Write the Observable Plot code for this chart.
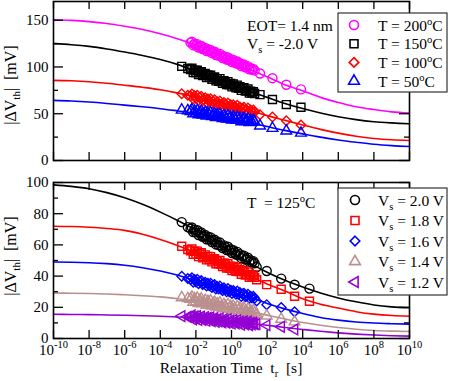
<!DOCTYPE html>
<html><head><meta charset="utf-8">
<script src="https://cdn.jsdelivr.net/npm/d3@7"></script>
<script src="https://cdn.jsdelivr.net/npm/@observablehq/plot@0.6"></script>
<style>
body{margin:0;background:#fff}
#wrap{position:relative;width:450px;height:381px;overflow:hidden;background:#fff}
#wrap svg{position:absolute;left:0;display:block;overflow:visible}
</style></head><body><div id="wrap"></div>
<script>
// ---------- data ----------
const bandTimes = [1.6e-3, 3.5e-3, 5.0e-3, 5.96e-3, 7.08e-3, 8.41e-3, 0.01, 0.0119, 0.0141, 0.0168, 0.02, 0.0237, 0.0282, 0.0335, 0.0398, 0.0473, 0.0562, 0.0668, 0.0794, 0.0944, 0.112, 0.133, 0.158, 0.188, 0.224, 0.266, 0.316, 0.376, 0.447, 0.531, 0.631, 0.75, 0.891, 1.06, 1.26, 1.5, 1.78, 2.11, 2.51, 2.99, 3.55, 4.22, 5.01, 5.96, 7.08, 8.41, 10, 11.9, 14.1, 16.8, 20];
const topPostTimes = [40, 200, 1200, 8000];
const botPostTimes = [26, 95, 620, 3500, 24000];
const curveTimes = [1e-10,1e-9,1e-8,1e-7,1e-6,1e-5,1e-4,1e-3,1e-2,1e-1,1,1e1,1e2,1e3,1e4,1e5,1e6,1e7,1e8,1e9,1e10];
const xTickValues = [1e-10,1e-8,1e-6,1e-4,1e-2,1,1e2,1e4,1e6,1e8,1e10];
const xTickExponents = ["-10","-8","-6","-4","-2","0","2","4","6","8","10"];
const topYTicks = [0, 50, 100, 150];
const topYMinor = [25, 75, 125];
const botYTicks = [0, 20, 40, 60, 80, 100];
const botYMinor = [10, 30, 50, 70, 90];

// top panel (Vs = -2.0 V, several temperatures)
const tempLabels = ["200", "150", "100", "50"];
const band200 = [null, null, 126.0, 126.9, 123.3, 124.9, 122.8, 124.4, 120.8, 122.2, 122.5, 119.2, 119.5, 120.4, 117.1, 118.9, 116.7, 118.2, 114.8, 115.8, 116.3, 112.7, 114.2, 112.1, 113.9, 111.4, 109.6, 111.6, 110.1, 108.0, 110.2, 107.3, 108.2, 105.3, 107.4, 105.6, 104.0, 105.8, 103.1, 104.0, 101.0, 102.4, 102.6, 99.7, 99.9, 100.9, 97.6, 98.7, 97.1, 98.0, 96.3];
const band150 = [100.7, 98.3, 97.2, 98.7, 94.1, 96.6, 94.1, 96.5, 92.0, 94.1, 94.9, 90.8, 91.5, 93.0, 88.8, 91.5, 89.0, 91.2, 86.9, 88.6, 89.4, 85.1, 87.4, 84.8, 87.5, 84.4, 82.5, 85.3, 83.6, 81.1, 84.3, 80.8, 82.3, 78.7, 81.8, 79.7, 77.7, 80.6, 77.3, 78.8, 75.0, 77.1, 77.8, 74.2, 74.7, 76.4, 72.2, 74.1, 72.2, 73.6, 71.7];
const band100 = [71.4, 69.8, 69.0, 71.1, 65.8, 69.2, 66.4, 69.7, 64.4, 67.3, 68.6, 63.8, 64.9, 67.1, 62.2, 65.8, 63.0, 66.1, 61.1, 63.4, 64.9, 59.7, 62.8, 60.0, 63.6, 60.1, 57.9, 61.9, 60.0, 57.1, 61.5, 57.4, 59.6, 55.4, 59.5, 57.2, 55.1, 59.0, 55.1, 57.3, 52.9, 55.8, 56.9, 52.8, 53.8, 56.1, 51.2, 53.9, 51.8, 53.9, 51.8];
const band50 = [54.0, 53.3, 52.5, 54.3, 50.0, 52.8, 50.6, 53.3, 49.1, 51.5, 52.6, 48.8, 49.8, 51.5, 47.7, 50.7, 48.4, 51.0, 47.0, 48.9, 50.1, 46.1, 48.6, 46.4, 49.4, 46.5, 44.9, 48.1, 46.6, 44.4, 48.0, 44.7, 46.5, 43.3, 46.6, 44.8, 43.2, 46.3, 43.3, 45.1, 41.6, 44.0, 45.0, 41.7, 42.5, 44.5, 40.6, 42.8, 41.2, 42.9, 41.3];
const post200 = [93, 88, 81, 76];
const post150 = [70.4, 65.2, 59.8, 57];
const post100 = [49, 46.5, 42.5, 38];
const post50 = [37, 34.5, 31.6, 29.4];
const curve200 = [150.5, 149.8, 148.5, 146.5, 143.5, 140, 135.5, 130, 123.5, 115, 106.5, 97.5, 89.5, 81, 74.5, 67.5, 62, 57.5, 54.5, 52, 50.7];
const curve150 = [125, 123.8, 122, 119.3, 116, 112.3, 108, 102.5, 95.5, 88, 81, 74, 67.5, 61, 55.5, 50.8, 46.8, 43.7, 41.5, 40.2, 39.3];
const curve100 = [85.7, 85.2, 84.2, 82.6, 80.5, 78.3, 75.7, 72, 68, 63.5, 58.5, 53.5, 48, 43, 38, 33.3, 29.3, 26, 23.6, 22.2, 21.4];
const curve50 = [64.3, 63.6, 62.5, 61, 59.2, 57.4, 55.4, 53, 50.5, 47.5, 44.5, 40.5, 36.3, 32.2, 28.5, 25, 22, 19.5, 17.3, 15.9, 15];

// bottom panel (T = 125 C, several stress voltages)
const voltLabels = ["2.0", "1.8", "1.6", "1.4", "1.2"];
const band20 = [74.6, 71.4, 70.4, 71.2, 68.2, 69.7, 68.0, 69.4, 66.3, 67.6, 68.0, 65.2, 65.5, 66.3, 63.6, 65.2, 63.4, 64.8, 61.8, 62.8, 63.3, 60.3, 61.7, 59.9, 61.5, 59.4, 58.0, 59.7, 58.5, 56.7, 58.8, 56.4, 57.2, 54.8, 56.6, 55.1, 53.8, 55.5, 53.3, 54.1, 51.5, 52.8, 53.1, 50.6, 50.9, 51.8, 49.1, 50.1, 48.7, 49.6, 48.2];
const band18 = [59.1, 57.0, 56.2, 57.4, 53.9, 55.9, 54.0, 56.0, 52.5, 54.2, 55.0, 51.7, 52.4, 53.6, 50.4, 52.6, 50.6, 52.5, 49.1, 50.5, 51.2, 47.9, 49.7, 47.8, 50.0, 47.6, 46.1, 48.5, 47.2, 45.2, 47.9, 45.1, 46.4, 43.6, 46.2, 44.5, 43.1, 45.4, 42.9, 44.1, 41.2, 42.9, 43.4, 40.7, 41.1, 42.6, 39.3, 40.9, 39.4, 40.7, 39.2];
const band16 = [39.9, 38.4, 37.9, 38.9, 36.1, 37.8, 36.3, 37.9, 35.1, 36.5, 37.2, 34.6, 35.1, 36.1, 33.6, 35.4, 33.9, 35.4, 32.7, 33.9, 34.6, 31.8, 33.4, 31.8, 33.7, 31.7, 30.6, 32.5, 31.4, 29.9, 32.1, 29.9, 31.0, 28.8, 30.8, 29.6, 28.4, 30.4, 28.3, 29.4, 27.0, 28.5, 29.0, 26.8, 27.2, 28.4, 25.8, 27.1, 25.9, 27.0, 25.8];
const band14 = [26.2, 25.6, 25.2, 26.6, 23.2, 25.5, 23.7, 25.9, 22.5, 24.4, 25.4, 22.3, 23.1, 24.5, 21.4, 23.8, 22.1, 24.1, 20.9, 22.4, 23.3, 20.2, 22.2, 20.4, 22.8, 20.5, 19.3, 21.8, 20.7, 18.9, 21.7, 19.1, 20.6, 18.0, 20.7, 19.2, 17.9, 20.5, 18.1, 19.5, 16.7, 18.6, 19.4, 16.8, 17.4, 19.0, 15.9, 17.7, 16.4, 17.8, 16.5];
const band12 = [14.3, 13.9, 13.7, 14.8, 12.3, 14.0, 12.7, 14.4, 11.9, 13.4, 14.1, 11.9, 12.6, 13.7, 11.4, 13.2, 11.9, 13.5, 11.1, 12.3, 13.1, 10.7, 12.3, 11.0, 12.8, 11.1, 10.3, 12.2, 11.4, 10.1, 12.3, 10.4, 11.5, 9.6, 11.7, 10.6, 9.7, 11.6, 9.8, 10.9, 8.9, 10.4, 11.0, 9.1, 9.6, 10.8, 8.6, 10.0, 9.0, 10.1, 9.2];
const post20 = [45.8, 43.3, 38.4, 34.5, 32];
const post18 = [37.7, 34.5, 31.6, 27.1, 23.9];
const post16 = [24.1, 21.7, 19.8, 17.1];
const post14 = [15.6, 14.5, 12.4, 10.7];
const post12 = [9.2, 8.5, 7.5, 5.8];
const curve20 = [98.5, 97.5, 96, 93.5, 90.2, 86, 81, 75.5, 69.5, 62.5, 55.5, 48.5, 42.5, 37.3, 33, 29.2, 26, 23.5, 21.5, 20.3, 19.7];
const curve18 = [72, 71.8, 71.3, 70.5, 69.3, 66.8, 63.5, 59.5, 55, 50, 45, 40, 35, 30.5, 25.5, 22, 19.5, 17.2, 15.6, 14.7, 14.3];
const curve16 = [49, 48.9, 48.6, 48, 47, 45.4, 43.3, 40.5, 37, 33.5, 30, 26.5, 22.5, 19, 16, 13.5, 11.8, 10.6, 9.9, 9.5, 9.2];
const curve14 = [29.2, 29, 28.8, 28.5, 28, 27.4, 26.7, 25.5, 24, 22, 20, 17.5, 15, 12.5, 10.3, 8.5, 7, 5.9, 5.1, 4.7, 4.5];
const curve12 = [15.5, 15.4, 15.3, 15.1, 14.9, 14.6, 14.3, 13.8, 13.1, 12.1, 11, 9.8, 8.5, 7.1, 5.8, 4.6, 3.6, 2.8, 2.2, 1.8, 1.5];

// ---------- symbols ----------
const leftTriangle = {
  draw(ctx, size) {
    const a = Math.sqrt(4 * size / Math.sqrt(3)), h = a * Math.sqrt(3) / 2;
    ctx.moveTo(-2 * h / 3, 0); ctx.lineTo(h / 3, -a / 2); ctx.lineTo(h / 3, a / 2); ctx.closePath();
  }
};
const symObj = {circle: d3.symbolCircle, square: d3.symbolSquare, diamond2: d3.symbolDiamond2, triangle: d3.symbolTriangle, left: leftTriangle};

const topSeries = [
  {color: "#ff00ff", symbol: "circle", r: 4.5, band: band200, post: post200, curve: curve200},
  {color: "#000000", symbol: "square", r: 4.5, band: band150, post: post150, curve: curve150},
  {color: "#ff0000", symbol: "diamond2", r: 4.3, band: band100, post: post100, curve: curve100},
  {color: "#0000ff", symbol: "triangle", r: 4, band: band50, post: post50, curve: curve50}
];
const botSeries = [
  {color: "#000000", symbol: "circle", r: 4.5, band: band20, post: post20, curve: curve20},
  {color: "#ff0000", symbol: "square", r: 4.5, band: band18, post: post18, curve: curve18},
  {color: "#0000ff", symbol: "diamond2", r: 4.3, band: band16, post: post16, curve: curve16},
  {color: "#bc8f8f", symbol: "triangle", r: 4, band: band14, post: post14, curve: curve14},
  {color: "#9400d3", symbol: "left", r: 4, band: band12, post: post12, curve: curve12}
];

const FONT = "'Liberation Serif', 'Times New Roman', serif";

function seriesMarks(series, postTimes) {
  const marks = [];
  for (const s of series) {
    const curve = curveTimes.map((t, i) => ({t, v: s.curve[i]}));
    marks.push(Plot.line(curve, {x: "t", y: "v", stroke: s.color, strokeWidth: 1.6, curve: "monotone-x"}));
  }
  for (const s of series) {
    const pts = bandTimes.map((t, i) => ({t, v: s.band[i]})).filter(d => d.v != null)
      .concat(s.post.map((v, i) => ({t: postTimes[i], v})));
    const sym = s.symbol === "left" ? leftTriangle : s.symbol;
    marks.push(Plot.dot(pts, {x: "t", y: "v", r: s.r, symbol: sym, stroke: s.color, fill: "none", strokeWidth: 1.4}));
  }
  return marks;
}

function frameTicks(yMajor, yMinor, innerW, innerH) {
  const st = {stroke: "black", strokeWidth: 1.3};
  return [
    Plot.tickX(xTickValues, {x: d => d, insetTop: innerH - 8, ...st}),
    Plot.tickX(xTickValues, {x: d => d, insetBottom: innerH - 8, ...st}),
    Plot.tickY(yMajor, {y: d => d, insetRight: innerW - 10, ...st}),
    Plot.tickY(yMajor, {y: d => d, insetLeft: innerW - 10, ...st}),
    Plot.tickY(yMinor, {y: d => d, insetRight: innerW - 5, ...st}),
    Plot.tickY(yMinor, {y: d => d, insetLeft: innerW - 5, ...st}),
    Plot.text(yMajor, {y: d => d, text: d => String(d), frameAnchor: "left", dx: -5, textAnchor: "end", fontSize: 15, fontFamily: FONT, fill: "black"})
  ];
}

const ML = 53, MR = 41, W = 450;
const innerW = W - ML - MR;

// top plot
const topH = 170, topMT = 1, topMB = 10;
const topPlot = Plot.plot({
  width: W, height: topH, marginTop: topMT, marginBottom: topMB, marginLeft: ML, marginRight: MR,
  style: {fontFamily: FONT, fontSize: "15px", background: "transparent", color: "black"},
  x: {type: "log", domain: [1e-10, 1e10], axis: null},
  y: {domain: [0, 170], axis: null},
  marks: [
    ...seriesMarks(topSeries, topPostTimes),
    ...frameTicks(topYTicks, topYMinor, innerW, topH - topMT - topMB),
    Plot.frame({stroke: "black", strokeWidth: 1.6})
  ]
});

// bottom plot
const botH = 211, botMT = 12, botMB = 43;
const botPlot = Plot.plot({
  width: W, height: botH, marginTop: botMT, marginBottom: botMB, marginLeft: ML, marginRight: MR,
  style: {fontFamily: FONT, fontSize: "15px", background: "transparent", color: "black"},
  x: {type: "log", domain: [1e-10, 1e10], axis: null},
  y: {domain: [0, 100], axis: null},
  marks: [
    ...seriesMarks(botSeries, botPostTimes),
    ...frameTicks(botYTicks, botYMinor, innerW, botH - botMT - botMB),
    Plot.text(xTickValues, {x: d => d, text: (d, i) => "10^" + xTickExponents[i], frameAnchor: "bottom", dy: 16.5, fontSize: 15, fontFamily: FONT, fill: "black"}),
    Plot.frame({stroke: "black", strokeWidth: 1.6})
  ]
});

const wrap = document.getElementById("wrap");
topPlot.style.top = "0px";
botPlot.style.top = "170px";
wrap.appendChild(topPlot);
wrap.appendChild(botPlot);

// superscript exponents on x tick labels
botPlot.querySelectorAll("text").forEach(el => {
  const m = el.textContent.match(/^10\^(.+)$/);
  if (!m) return;
  while (el.firstChild) el.removeChild(el.firstChild);
  const ns = "http://www.w3.org/2000/svg";
  const a = document.createElementNS(ns, "tspan"); a.textContent = "10"; el.appendChild(a);
  const b = document.createElementNS(ns, "tspan"); b.textContent = m[1];
  b.setAttribute("dy", "-7.5"); b.setAttribute("font-size", "10.5"); el.appendChild(b);
});

// ---------- rich text helpers ----------
function richText(g, x, y, parts, size, opts = {}) {
  const t = g.append("text").attr("x", x).attr("y", y).attr("font-size", size)
    .attr("font-family", FONT).attr("fill", "black")
    .attr("text-anchor", opts.anchor || "start").attr("xml:space", "preserve").style("white-space", "pre");
  if (opts.transform) t.attr("transform", opts.transform);
  let shift = 0;
  for (const [s, kind] of parts) {
    const target = kind === "sup" ? -6 : kind === "sub" ? 4 : 0;
    const sp = t.append("tspan").attr("dy", target - shift).text(s);
    if (kind) sp.attr("font-size", size * 0.68);
    shift = target;
  }
  return t;
}

function legend(svgNode, box, rows, series) {
  const g = d3.select(svgNode).append("g");
  g.append("rect").attr("x", box.x).attr("y", box.y).attr("width", box.w).attr("height", box.h)
    .attr("fill", "white").attr("stroke", "#333").attr("stroke-width", 1.2);
  rows.forEach((parts, i) => {
    const s = series[i];
    const cy = box.y0 + i * box.dy;
    g.append("path").attr("d", d3.symbol(symObj[s.symbol], Math.PI * s.r * s.r)())
      .attr("transform", `translate(${box.mx},${cy})`)
      .attr("fill", "none").attr("stroke", s.color).attr("stroke-width", 1.6);
    richText(g, box.tx, cy + 5.5, parts, 15.5);
  });
}

const topSvg = topPlot.tagName.toLowerCase() === "svg" ? topPlot : topPlot.querySelector("svg");
const botSvg = botPlot.tagName.toLowerCase() === "svg" ? botPlot : botPlot.querySelector("svg");

// top annotations & legend
{
  const g = d3.select(topSvg).append("g");
  richText(g, 247, 31, [["EOT= 1.4 nm"]], 15.5);
  richText(g, 247, 49, [["V"], ["s", "sub"], [" = -2.0 V"]], 15.5);
  richText(g, 16, 85, [["|ΔV"], ["th", "sub"], ["|  [mV]"]], 16, {anchor: "middle", transform: "rotate(-90 16 85)"});
  legend(topSvg, {x: 338, y: 13, w: 109, h: 79, y0: 25, dy: 18.7, mx: 354, tx: 378},
    tempLabels.map(l => [["T = " + l], ["o", "sup"], ["C"]]), topSeries);
}
// bottom annotations & legend
{
  const g = d3.select(botSvg).append("g");
  richText(g, 247, 38, [["T  = 125"], ["o", "sup"], ["C"]], 15.5);
  richText(g, 16, 86, [["|ΔV"], ["th", "sub"], ["|  [mV]"]], 16, {anchor: "middle", transform: "rotate(-90 16 86)"});
  richText(g, 231, 203, [["Relaxation Time  t"], ["r", "sub"], ["  [s]"]], 15.5, {anchor: "middle"});
  legend(botSvg, {x: 338, y: 18, w: 109, h: 107, y0: 30, dy: 20.5, mx: 355, tx: 378},
    voltLabels.map(l => [["V"], ["s", "sub"], [" = " + l + " V"]]), botSeries);
}
</script></body></html>
